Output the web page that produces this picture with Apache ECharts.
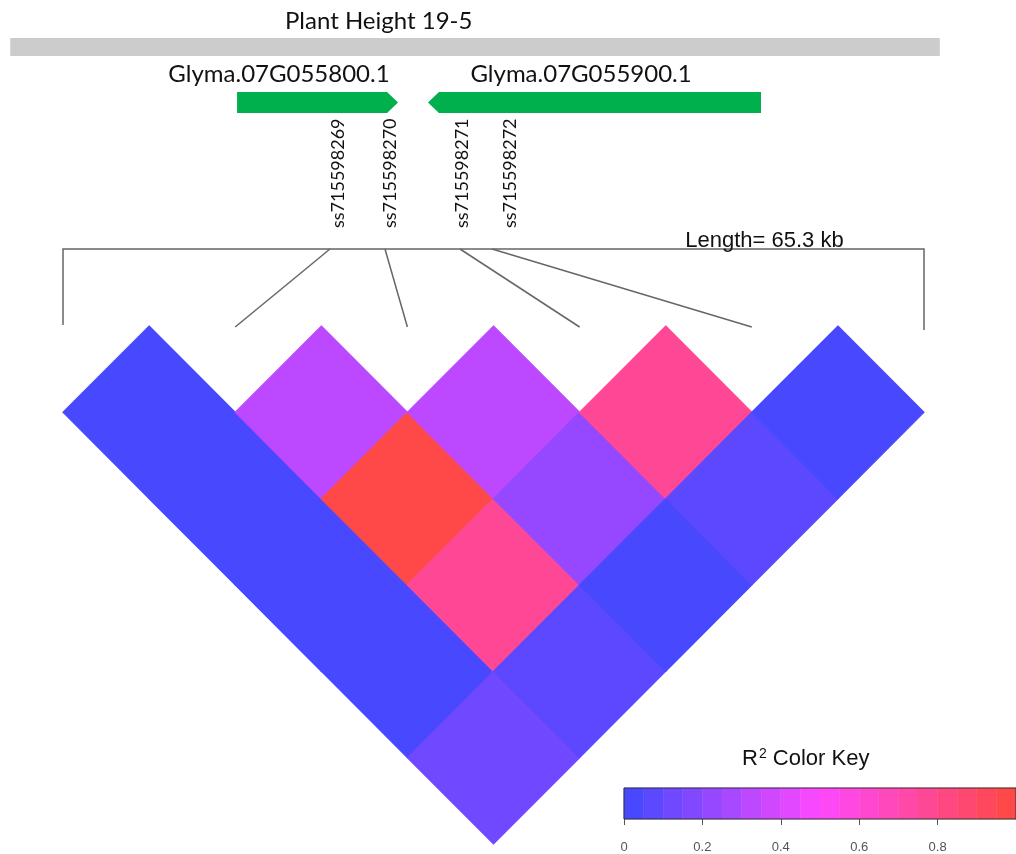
<!DOCTYPE html>
<html>
<head>
<meta charset="utf-8">
<title>LD heatmap - Plant Height 19-5</title>
<script src="https://cdn.jsdelivr.net/npm/echarts@6/dist/echarts.min.js"></script>
<style>
  html, body { margin: 0; padding: 0; background: #fff; }
  #main { width: 1016px; height: 854px; }
</style>
</head>
<body>
<div id="main"></div>
<script>
// ---- data ----
var regionKb = 65.3;          // first SNP .. last SNP
var snpCount = 6;

// named SNPs: column in the LD triangle, physical position (kb), label position (kb)
var snpNames = ['ss715598269', 'ss715598270', 'ss715598271', 'ss715598272'];
var snpIndex = [1, 2, 3, 4];
var snpKb = [20.25, 24.42, 30.11, 32.54];
var snpLabelKb = [20.86, 24.8, 30.26, 33.9];

var geneNames = ['Glyma.07G055800.1', 'Glyma.07G055900.1'];
var geneStartKb = [13.2, 27.68];
var geneEndKb = [25.41, 52.94];
var geneStrand = [1, -1];
var geneLabelKb = [16.38, 39.29];

var qtlName = 'Plant Height 19-5';
var qtlStartKb = -4.0;
var qtlEndKb = 66.5;

// pairwise r2, row i = SNP i against SNP i+1 .. last
var r2 = [
  [0.02, 0.02, 0.02, 0.02, 0.12],
  [0.32, 0.97, 0.77, 0.07],
  [0.32, 0.22, 0.02],
  [0.77, 0.07],
  [0.02]
];

// colour key bins (centres) and ticks
var keyBins = [0.025, 0.075, 0.125, 0.175, 0.225, 0.275, 0.325, 0.375, 0.425, 0.475,
               0.525, 0.575, 0.625, 0.675, 0.725, 0.775, 0.825, 0.875, 0.925, 0.975];
var keyTicks = [0, 0.2, 0.4, 0.6, 0.8];

// ---- layout (px) ----
var Y_QTL = [38, 56];
var Y_GENE = [92, 113];
var Y_GENE_LABEL = 74;
var Y_SNP_LABEL = 228;
var Y_BRACKET = 249;
var Y_LINK_END = 327;
var LENGTH_LABEL_KB = 53.2;
var HEAD = 11;
var BIN_HALF = 0.025;

var cells = [];
r2.forEach(function (row, i) {
  row.forEach(function (v, k) { cells.push([i, i + k + 1, v]); });
});

var genes = geneNames.map(function (n, k) {
  return [geneStartKb[k], geneEndKb[k], geneStrand[k], geneLabelKb[k]];
});
var links = snpKb.map(function (kb, k) { return [kb, snpIndex[k]]; });

var chart = echarts.init(document.getElementById('main'));

var vmBase = {
  type: 'piecewise', show: false, min: 0, max: 1, splitNumber: 20,
  inRange: { color: ['#4848ff', '#ff48ff', '#ff4848'] }
};

chart.setOption({
  animation: false,
  title: [{
    text: qtlName, left: 280, top: 4,
    textStyle: { fontFamily: 'Lato', fontSize: 24, fontWeight: 'normal', color: '#111' }
  }, {
    text: '{a|R}{s|2}{a| Color Key}', left: 737, top: 742,
    textStyle: {
      fontWeight: 'normal',
      rich: {
        a: { fontFamily: 'Liberation Sans', fontSize: 22, fontWeight: 'normal', color: '#111' },
        s: { fontFamily: 'Liberation Sans', fontSize: 14, fontWeight: 'normal', color: '#111', padding: [0, 0, 9, 1] }
      }
    }
  }],
  grid: [
    { left: 63, right: 92, top: 326, bottom: 10 },
    { left: 624, top: 788, width: 394, height: 39 }
  ],
  xAxis: [
    { gridIndex: 0, type: 'value', min: 0, max: snpCount - 1, show: false },
    { gridIndex: 0, type: 'value', min: 0, max: regionKb, show: false },
    {
      gridIndex: 1, type: 'value', min: 0, max: 1, interval: 0.2, position: 'bottom',
      axisLine: { show: false },
      axisTick: { show: true, length: 6, lineStyle: { color: '#555' } },
      axisLabel: {
        color: '#555', fontSize: 13, fontFamily: 'Liberation Sans', margin: 22, showMaxLabel: false,
        formatter: function (v) { return keyTicks.indexOf(v) >= 0 ? String(v) : ''; }
      },
      splitLine: { show: false }
    }
  ],
  yAxis: [
    { gridIndex: 0, type: 'value', min: 0, max: 6, inverse: true, show: false },
    { gridIndex: 1, type: 'value', min: 0, max: 1, show: false }
  ],
  visualMap: [
    Object.assign({}, vmBase, { seriesIndex: 0, dimension: 2 }),
    Object.assign({}, vmBase, { seriesIndex: 6, dimension: 0 })
  ],
  series: [
    { // 0: LD triangle
      type: 'custom', xAxisIndex: 0, yAxisIndex: 0, data: cells,
      renderItem: function (params, api) {
        var i = api.value(0), j = api.value(1);
        var cx = (i + j) / 2, cy = j - i;
        var c = api.visual('color');
        return {
          type: 'polygon',
          shape: { points: [api.coord([cx, cy - 1]), api.coord([cx + 0.5, cy]),
                            api.coord([cx, cy + 1]), api.coord([cx - 0.5, cy])] },
          style: { fill: c, stroke: c, lineWidth: 1.2, lineJoin: 'miter' }
        };
      }
    },
    { // 1: QTL bar
      type: 'custom', xAxisIndex: 1, yAxisIndex: 0, data: [[qtlStartKb, qtlEndKb]],
      renderItem: function (params, api) {
        var x0 = api.coord([api.value(0), 0])[0], x1 = api.coord([api.value(1), 0])[0];
        return { type: 'rect', shape: { x: x0, y: Y_QTL[0], width: x1 - x0, height: Y_QTL[1] - Y_QTL[0] },
                 style: { fill: '#cccccc' } };
      }
    },
    { // 2: gene models
      type: 'custom', xAxisIndex: 1, yAxisIndex: 0, data: genes,
      renderItem: function (params, api) {
        var x0 = api.coord([api.value(0), 0])[0], x1 = api.coord([api.value(1), 0])[0];
        var yt = Y_GENE[0], yb = Y_GENE[1], ym = (yt + yb) / 2;
        var pts = api.value(2) > 0
          ? [[x0, yt], [x1 - HEAD, yt], [x1, ym], [x1 - HEAD, yb], [x0, yb]]
          : [[x0, ym], [x0 + HEAD, yt], [x1, yt], [x1, yb], [x0 + HEAD, yb]];
        var lx = api.coord([api.value(3), 0])[0];
        return { type: 'group', children: [
          { type: 'polygon', shape: { points: pts }, style: { fill: '#00b04c' } },
          { type: 'text', x: lx, y: Y_GENE_LABEL,
            style: { text: geneNames[params.dataIndex], fontFamily: 'Lato', fontSize: 24,
                     fill: '#111', align: 'center', verticalAlign: 'middle' } }
        ] };
      }
    },
    { // 3: SNP names
      type: 'custom', xAxisIndex: 1, yAxisIndex: 0, data: snpLabelKb.map(function (v) { return [v]; }),
      renderItem: function (params, api) {
        var x = api.coord([api.value(0), 0])[0];
        return { type: 'text', x: x, y: Y_SNP_LABEL, rotation: Math.PI / 2,
                 style: { text: snpNames[params.dataIndex], fontFamily: 'Lato', fontSize: 18,
                          fill: '#111', align: 'left', verticalAlign: 'middle' } };
      }
    },
    { // 4: region bracket + length
      type: 'custom', xAxisIndex: 1, yAxisIndex: 0, data: [[0, regionKb]],
      renderItem: function (params, api) {
        var x0 = api.coord([api.value(0), 0])[0], x1 = api.coord([api.value(1), 0])[0];
        var lx = api.coord([LENGTH_LABEL_KB, 0])[0];
        return { type: 'group', children: [
          { type: 'polyline',
            shape: { points: [[x0, Y_LINK_END - 2], [x0, Y_BRACKET], [x1, Y_BRACKET], [x1, Y_LINK_END + 3]] },
            style: { stroke: '#666', lineWidth: 1.5, fill: null } },
          { type: 'text', x: lx, y: Y_BRACKET - 8,
            style: { text: 'Length= ' + regionKb + ' kb', fontFamily: 'Liberation Sans', fontSize: 22,
                     fill: '#111', align: 'center', verticalAlign: 'middle' } }
        ] };
      }
    },
    { // 5: SNP position -> triangle column links
      type: 'custom', xAxisIndex: 1, yAxisIndex: 0, data: links,
      renderItem: function (params, api) {
        var xa = api.coord([api.value(0), 0])[0];
        var xb = api.coord([api.value(1) * regionKb / (snpCount - 1), 0])[0];
        return { type: 'line', shape: { x1: xa, y1: Y_BRACKET, x2: xb, y2: Y_LINK_END },
                 style: { stroke: '#666', lineWidth: 1.5 } };
      }
    },
    { // 6: colour key bins
      type: 'custom', xAxisIndex: 2, yAxisIndex: 1, data: keyBins.map(function (v) { return [v]; }),
      renderItem: function (params, api) {
        var v = api.value(0);
        var p0 = api.coord([v - BIN_HALF, 1]), p1 = api.coord([v + BIN_HALF, 0]);
        var c = api.visual('color');
        return { type: 'rect', shape: { x: p0[0], y: p0[1], width: p1[0] - p0[0], height: p1[1] - p0[1] },
                 style: { fill: c, stroke: c, lineWidth: 0.5 } };
      }
    },
    { // 7: colour key frame
      type: 'custom', xAxisIndex: 2, yAxisIndex: 1, z: 5, data: [[0, 1]],
      renderItem: function (params, api) {
        var p0 = api.coord([api.value(0), 1]), p1 = api.coord([api.value(1), 0]);
        return { type: 'rect', shape: { x: p0[0], y: p0[1], width: p1[0] - p0[0], height: p1[1] - p0[1] },
                 style: { fill: null, stroke: '#333', lineWidth: 1 } };
      }
    }
  ]
});
</script>
</body>
</html>
